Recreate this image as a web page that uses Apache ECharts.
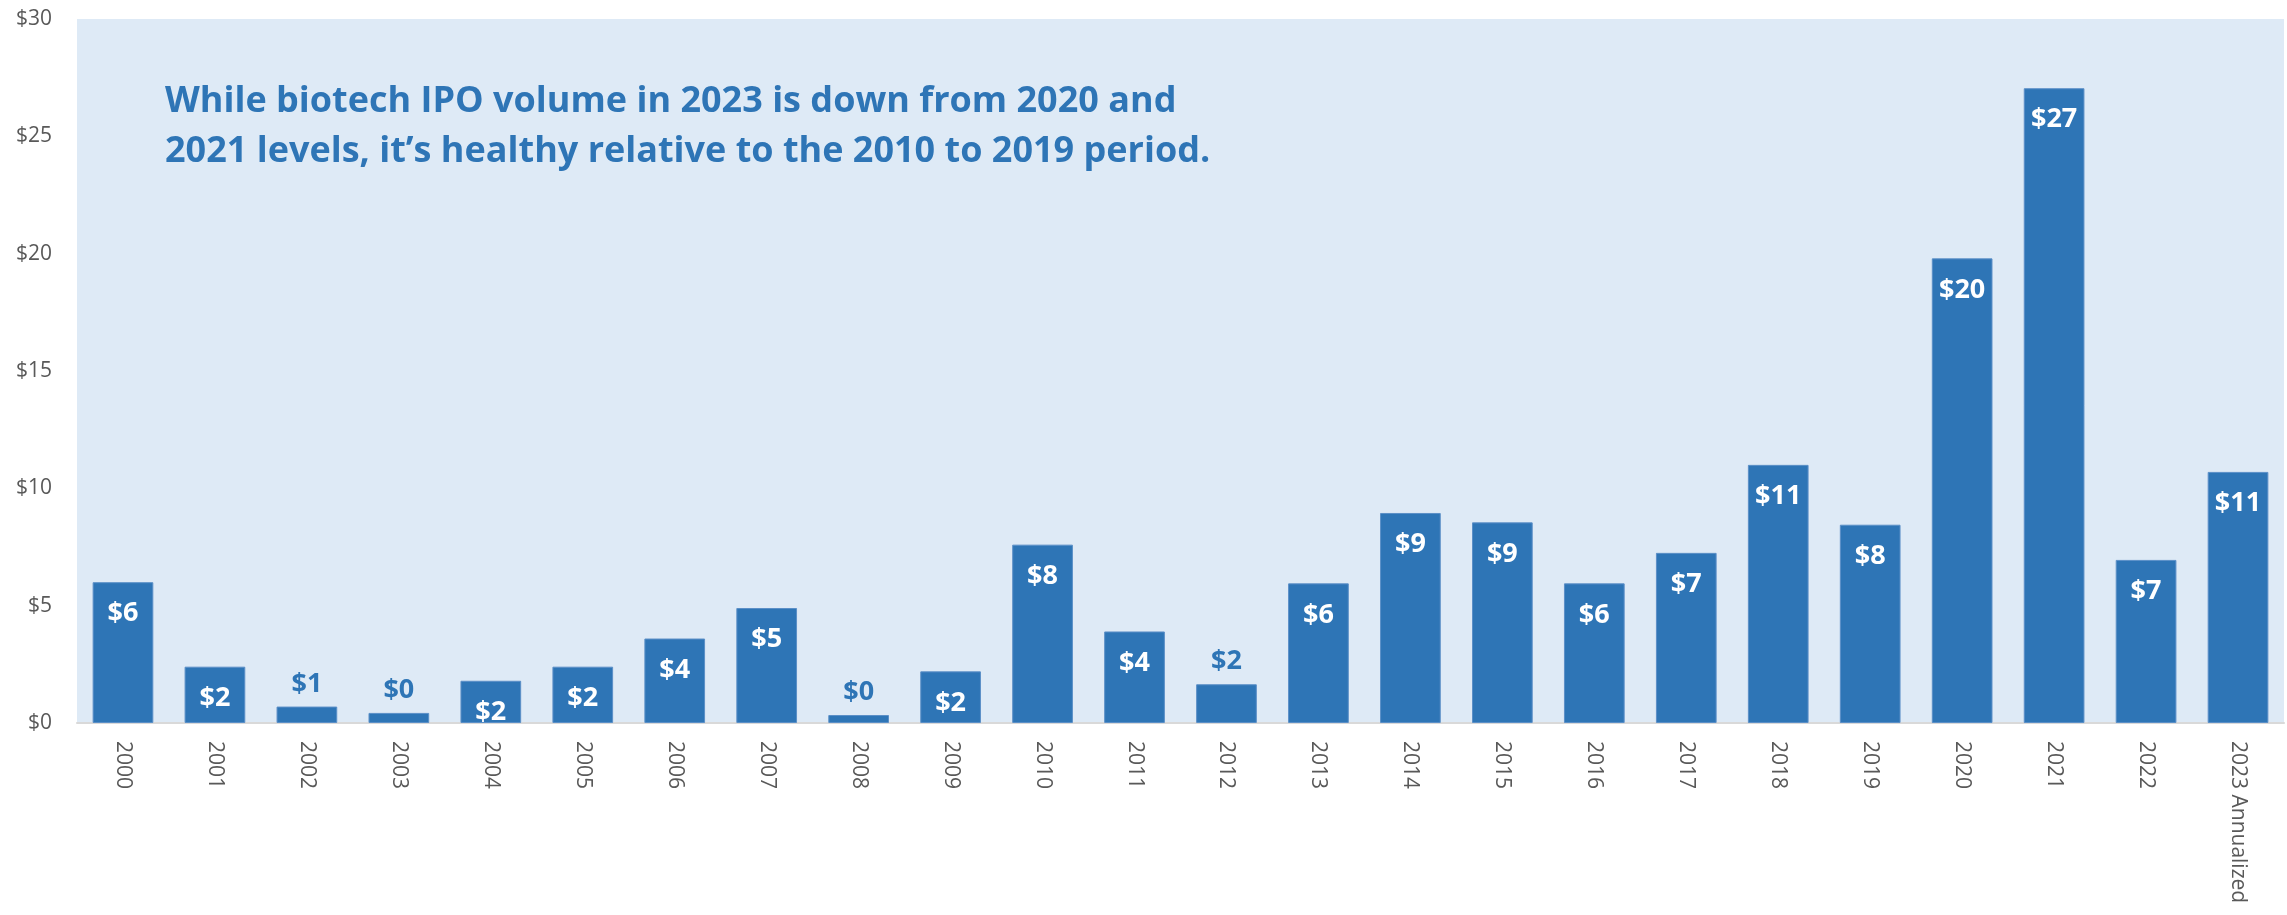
<!DOCTYPE html>
<html>
<head>
<meta charset="utf-8">
<script src="https://cdn.jsdelivr.net/npm/echarts@6/dist/echarts.min.js"></script>
<style>
  html, body { margin: 0; padding: 0; background: #ffffff; }
  #chart { width: 2287px; height: 915px; }
</style>
</head>
<body>
<div id="chart"></div>
<script>
// Biotech IPO volume by year ($B)
const years = ['2000', '2001', '2002', '2003', '2004', '2005', '2006', '2007', '2008', '2009',
  '2010', '2011', '2012', '2013', '2014', '2015', '2016', '2017', '2018', '2019',
  '2020', '2021', '2022', '2023 Annualized'];
const ipoVolume = [6.0, 2.4, 0.7, 0.43, 1.8, 2.4, 3.6, 4.9, 0.34, 2.2,
  7.6, 3.9, 1.65, 5.95, 8.95, 8.55, 5.95, 7.25, 11.0, 8.45,
  19.8, 27.05, 6.95, 10.7];
// bars too short to hold their label get it above the bar
const labelAbove = ['2002', '2003', '2008', '2012'];
const yTicks = { min: 0, max: 30, interval: 5 };
const headline = 'While biotech IPO volume in 2023 is down from 2020 and\n2021 levels, it\u2019s healthy relative to the 2010 to 2019 period.';

const BAR = '#2E75B6';
const fmt = p => '$' + Math.round(p.value);

const barData = years.map((y, i) => {
  const above = labelAbove.includes(y);
  return {
    value: ipoVolume[i],
    label: above
      ? { position: 'top', color: BAR, distance: 9 }
      : { position: 'insideTop', color: '#ffffff', distance: 18 }
  };
});

const chart = echarts.init(document.getElementById('chart'), null, { renderer: 'canvas' });
chart.setOption({
  animation: false,
  grid: {
    left: 77, right: 3, top: 19, bottom: 192,
    show: true, backgroundColor: '#DEEAF6', borderWidth: 0
  },
  xAxis: {
    type: 'category',
    data: years,
    axisLine: { show: true, lineStyle: { color: '#D9D9D9', width: 2 } },
    axisTick: { show: false },
    axisLabel: {
      rotate: -90, interval: 0, margin: 18,
      color: '#595959', fontSize: 21, fontFamily: 'Open Sans'
    }
  },
  yAxis: {
    type: 'value',
    min: yTicks.min, max: yTicks.max, interval: yTicks.interval,
    splitLine: { show: false },
    axisLine: { show: false },
    axisTick: { show: false },
    axisLabel: {
      margin: 25, color: '#595959', fontSize: 21, fontFamily: 'Open Sans',
      formatter: v => '$' + v
    }
  },
  series: [{
    type: 'bar',
    data: barData,
    barCategoryGap: '34%',
    itemStyle: { color: BAR, borderColor: '#5B8FC7', borderWidth: 1 },
    label: {
      show: true, formatter: fmt,
      fontFamily: 'Open Sans', fontWeight: 'bold', fontSize: 27
    }
  }],
  graphic: [{
    type: 'text',
    left: 165, top: 77,
    style: {
      text: headline,
      fill: BAR,
      font: 'bold 36px "Open Sans"',
      lineHeight: 50
    }
  }]
});
</script>
</body>
</html>
